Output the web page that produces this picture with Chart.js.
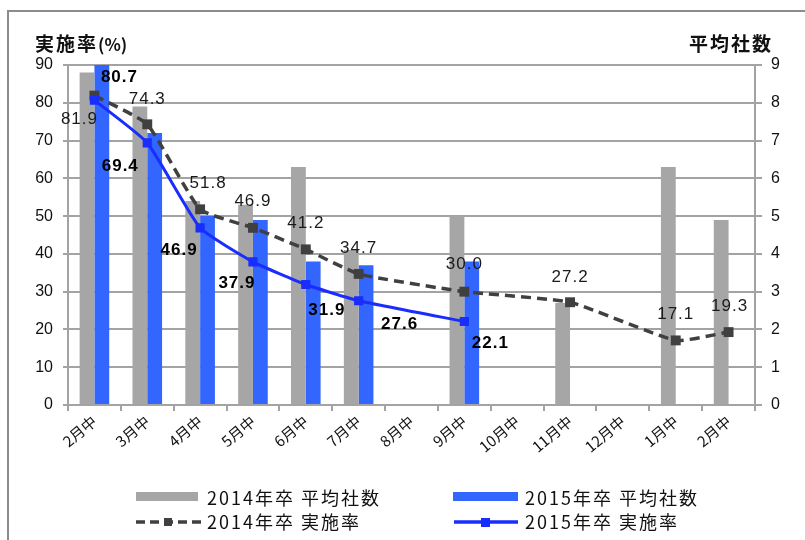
<!DOCTYPE html>
<html>
<head>
<meta charset="utf-8">
<script src="https://cdn.jsdelivr.net/npm/chart.js@4/dist/chart.umd.min.js"></script>
<style>
  html, body { margin:0; padding:0; background:#fff; }
  #wrap { position:relative; width:805px; height:540px; overflow:hidden; }
  #frame { position:absolute; left:7px; top:10px; width:820px; height:560px; border:2px solid #8c8c8c; box-sizing:border-box; }
  canvas { position:absolute; left:0; top:0; }
  .ttl { position:absolute; font-family:"Noto Sans CJK JP", sans-serif; font-weight:bold; font-size:19px; letter-spacing:2px; color:#111; line-height:1; white-space:nowrap; }
  .lg { position:absolute; font-family:"Noto Sans CJK JP", sans-serif; font-size:18px; letter-spacing:2px; color:#111; line-height:1; white-space:nowrap; }
  .sw { position:absolute; }
</style>
</head>
<body>
<div id="wrap">
  <div id="frame"></div>
  <canvas id="c" width="805" height="540"></canvas>
  <div class="ttl" style="left:35px; top:33px;">実施率<span style="letter-spacing:0; font-size:17px;">(%)</span></div>
  <div class="ttl" style="left:689px; top:33px;">平均社数</div>

  <div class="sw" style="left:136px; top:492px; width:62px; height:9px; background:#a6a6a6;"></div>
  <div class="lg" style="left:207px; top:488px;">2014年卒 平均社数</div>
  <div class="sw" style="left:453px; top:492px; width:65px; height:9px; background:#3366ff;"></div>
  <div class="lg" style="left:525px; top:488px;">2015年卒 平均社数</div>

  <svg class="sw" style="left:134px; top:514px;" width="70" height="16">
    <line x1="2" y1="8" x2="68" y2="8" stroke="#404040" stroke-width="3.5" stroke-dasharray="9,5"/>
    <rect x="30" y="4" width="8" height="8" fill="#404040"/>
  </svg>
  <div class="lg" style="left:207px; top:512px;">2014年卒 実施率</div>
  <svg class="sw" style="left:452px; top:514px;" width="70" height="16">
    <line x1="2" y1="8" x2="66" y2="8" stroke="#1a2dff" stroke-width="3.5"/>
    <rect x="29" y="4" width="9" height="9" fill="#1a2dff"/>
  </svg>
  <div class="lg" style="left:525px; top:512px;">2015年卒 実施率</div>
</div>
<script>
// ---- data ----
const categories = ["2月中","3月中","4月中","5月中","6月中","7月中","8月中","9月中","10月中","11月中","12月中","1月中","2月中"];
const avgCompanies2014 = [8.8, 7.9, 5.4, 5.3, 6.3, 4.1, null, 5.0, null, 2.7, null, 6.3, 4.9];
const avgCompanies2015 = [9.3, 7.2, 5.0, 4.9, 3.8, 3.7, null, 3.8, null, null, null, null, null];
const rate2014 = [81.9, 74.3, 51.8, 46.9, 41.2, 34.7, null, 30.0, null, 27.2, null, 17.1, 19.3];
const rate2015 = [80.7, 69.4, 46.9, 37.9, 31.9, 27.6, null, 22.1, null, null, null, null, null];
const leftTicks = [0, 10, 20, 30, 40, 50, 60, 70, 80, 90];
const rightTicks = [0, 1, 2, 3, 4, 5, 6, 7, 8, 9];

// label placement offsets (layout only)
const rate2014LabelDX = [-15, 0, 8, 0, 0, 0, 0, 0, 0, 0, 0, 0, 1];
const rate2014LabelDY = [24, -25, -26, -27, -26, -26, 0, -27, 0, -25, 0, -26, -26];
const rate2015LabelDX = [25, -27, -21, -16, 21, 41, 0, 26];
const rate2015LabelDY = [-23, 23, 22, 21, 26, 24, 0, 22];

const gridColor = '#a3a3a3';

const labelPlugin = {
  id: 'valueLabels',
  afterDatasetsDraw(chart) {
    const ctx = chart.ctx;
    ctx.save();
    ctx.textAlign = 'center';
    ctx.textBaseline = 'middle';
    const draw = (dsIndex, values, dxs, dys, font, color) => {
      const meta = chart.getDatasetMeta(dsIndex);
      ctx.font = font;
      ctx.fillStyle = color;
      try { ctx.letterSpacing = '1px'; } catch (e) {}
      values.forEach((v, i) => {
        if (v === null || v === undefined) return;
        const el = meta.data[i];
        ctx.fillText(v.toFixed(1), el.x + (dxs[i] || 0), el.y + (dys[i] || 0));
      });
    };
    draw(2, rate2014, rate2014LabelDX, rate2014LabelDY, '17px "Liberation Sans", Arial, sans-serif', '#1a1a1a');
    draw(3, rate2015, rate2015LabelDX, rate2015LabelDY, 'bold 17px "Liberation Sans", Arial, sans-serif', '#000');
    ctx.restore();
  }
};

new Chart(document.getElementById('c'), {
  data: {
    labels: categories,
    datasets: [
      { type:'bar', label:'2014年卒 平均社数', data: avgCompanies2014, yAxisID:'y1', backgroundColor:'#a6a6a6', categoryPercentage:0.56, barPercentage:1.0, order:2 },
      { type:'bar', label:'2015年卒 平均社数', data: avgCompanies2015, yAxisID:'y1', backgroundColor:'#3366ff', categoryPercentage:0.56, barPercentage:1.0, order:3 },
      { type:'line', label:'2014年卒 実施率', data: rate2014, yAxisID:'y', borderColor:'#404040', backgroundColor:'#404040', borderWidth:3.5, borderDash:[10,6], pointStyle:'rect', pointRadius:7, pointHoverRadius:7, pointBorderWidth:0, tension:0.15, spanGaps:true, order:1 },
      { type:'line', label:'2015年卒 実施率', data: rate2015, yAxisID:'y', borderColor:'#1a2dff', backgroundColor:'#1a2dff', borderWidth:3, pointStyle:'rect', pointRadius:6.5, pointHoverRadius:6.5, pointBorderWidth:0, tension:0.15, spanGaps:true, order:0 }
    ]
  },
  options: {
    responsive:false,
    animation:false,
    events:[],
    layout:{ padding:{ top:65, bottom:75, left:0, right:0 } },
    plugins:{ legend:{display:false}, tooltip:{enabled:false}, title:{display:false} },
    scales:{
      x:{
        offset:true,
        grid:{ display:true, drawOnChartArea:false, drawTicks:true, tickLength:6, color:gridColor, lineWidth:2, offset:true },
        border:{ display:true, color:gridColor, width:2 },
        ticks:{ color:'#111', font:{ family:'"Noto Sans CJK JP", sans-serif', size:15 }, minRotation:40, maxRotation:40, autoSkip:false, padding:1 },
        afterFit(s){ s.height = 60; }
      },
      y:{
        position:'left',
        min:0, max:90,
        afterBuildTicks(s){ s.ticks = leftTicks.map(v => ({value:v})); },
        grid:{ color:gridColor, lineWidth:2, tickLength:5, drawTicks:true },
        border:{ display:true, color:gridColor, width:2 },
        ticks:{ color:'#111', font:{ family:'"Liberation Sans", Arial, sans-serif', size:16 }, padding:10 },
        afterFit(s){ s.width = 68; }
      },
      y1:{
        position:'right',
        min:0, max:9,
        afterBuildTicks(s){ s.ticks = rightTicks.map(v => ({value:v})); },
        grid:{ drawOnChartArea:false, color:gridColor, lineWidth:2, tickLength:7, drawTicks:true },
        border:{ display:true, color:gridColor, width:2 },
        ticks:{ color:'#111', font:{ family:'"Liberation Sans", Arial, sans-serif', size:16 }, padding:9 },
        afterFit(s){ s.width = 50; }
      }
    }
  },
  plugins:[labelPlugin]
});
</script>
</body>
</html>
